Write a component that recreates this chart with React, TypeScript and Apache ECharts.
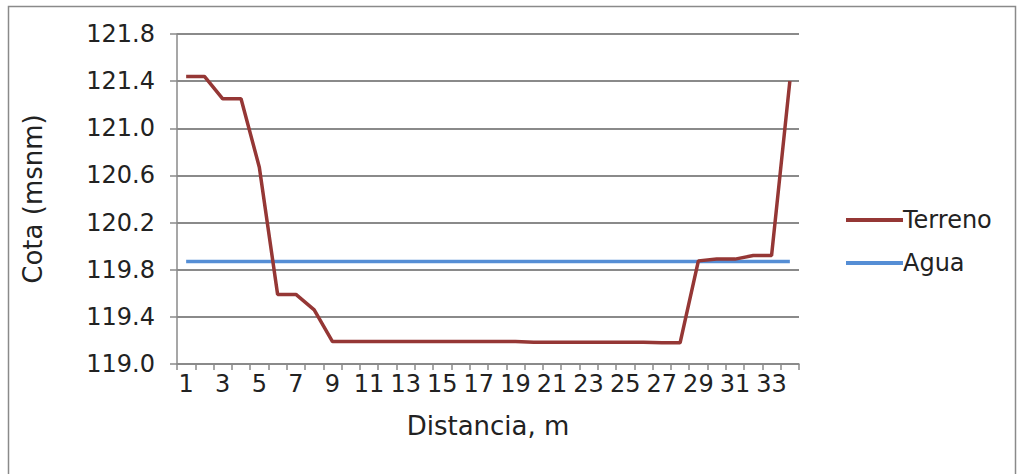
import React, { useEffect, useRef } from "react";
import * as echarts from "echarts";

const categories: string[] = Array.from({ length: 34 }, (_, i) => String(i + 1));

const terreno: number[] = [
  121.44, 121.44, 121.25, 121.25, 120.67, 119.59, 119.59, 119.46, 119.19, 119.19,
  119.19, 119.19, 119.19, 119.19, 119.19, 119.19, 119.19, 119.19, 119.19, 119.185,
  119.185, 119.185, 119.185, 119.185, 119.185, 119.185, 119.18, 119.18, 119.875, 119.89,
  119.89, 119.92, 119.92, 121.4,
];

const agua: number[] = [
  119.87, 119.87, 119.87, 119.87, 119.87, 119.87, 119.87, 119.87, 119.87, 119.87,
  119.87, 119.87, 119.87, 119.87, 119.87, 119.87, 119.87, 119.87, 119.87, 119.87,
  119.87, 119.87, 119.87, 119.87, 119.87, 119.87, 119.87, 119.87, 119.87, 119.87,
  119.87, 119.87, 119.87, 119.87,
];

const seriesNames = ["Terreno", "Agua"];
const FONT = "DejaVu Sans";

export default function App() {
  const ref = useRef<HTMLDivElement>(null);
  useEffect(() => {
    if (!ref.current) return;
    const chart = echarts.init(ref.current, null, { renderer: "svg" });
    chart.setOption({
      animation: false,
      backgroundColor: "#ffffff",
      textStyle: { fontFamily: FONT, color: "#222" },
      graphic: [
        {
          type: "rect",
          shape: { x: 8.5, y: 6.5, width: 1007, height: 475 },
          style: { fill: "none", stroke: "#8a8a8a", lineWidth: 1.5 },
          silent: true,
        },
      ],
      grid: { left: 177, right: 219, top: 34, bottom: 110 },
      legend: {
        orient: "vertical",
        left: 841,
        top: 203,
        itemWidth: 57,
        itemHeight: 4,
        itemGap: 19,
        icon: "rect",
        data: seriesNames,
        textStyle: { fontFamily: FONT, fontSize: 24, color: "#222", padding: [0, 0, 0, -5] },
      },
      xAxis: {
        type: "category",
        data: categories,
        boundaryGap: true,
        name: "Distancia, m",
        nameLocation: "middle",
        nameGap: 49,
        nameTextStyle: { fontFamily: FONT, fontSize: 26, color: "#222" },
        axisLine: { lineStyle: { color: "#8a8a8a", width: 1.5 } },
        axisTick: { show: true, interval: 0, length: 6, lineStyle: { color: "#8a8a8a", width: 1.5 } },
        axisLabel: { interval: 1, fontFamily: FONT, fontSize: 24, color: "#222", margin: 8 },
        splitLine: { show: false },
      },
      yAxis: {
        type: "value",
        min: 119.0,
        max: 121.8,
        interval: 0.4,
        name: "Cota (msnm)",
        nameLocation: "middle",
        nameRotate: 90,
        nameGap: 131,
        nameTextStyle: { fontFamily: FONT, fontSize: 26, color: "#222" },
        axisLine: { show: true, lineStyle: { color: "#8a8a8a", width: 1.5 } },
        axisTick: { show: true, length: 7, lineStyle: { color: "#8a8a8a", width: 1.5 } },
        axisLabel: {
          fontFamily: FONT,
          fontSize: 24,
          color: "#222",
          margin: 22,
          formatter: (v: number) => v.toFixed(1),
        },
        splitLine: { show: true, lineStyle: { color: "#8a8a8a", width: 2 } },
      },
      series: [
        {
          name: seriesNames[0],
          type: "line",
          data: terreno,
          symbol: "none",
          lineStyle: { color: "#953735", width: 3.5 },
          itemStyle: { color: "#953735" },
        },
        {
          name: seriesNames[1],
          type: "line",
          data: agua,
          symbol: "none",
          lineStyle: { color: "#558ED5", width: 3.5 },
          itemStyle: { color: "#558ED5" },
          z: 1,
        },
      ],
    });
    return () => chart.dispose();
  }, []);
  return (
    <div
      ref={ref}
      style={{ position: "fixed", left: 0, top: 0, width: 1018, height: 474 }}
    />
  );
}
